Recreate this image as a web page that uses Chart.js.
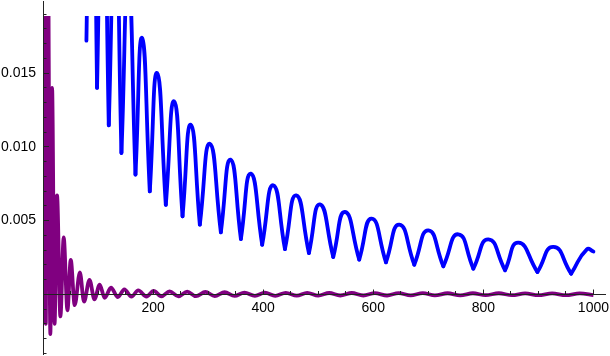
<!DOCTYPE html>
<html>
<head>
<meta charset="utf-8">
<script src="https://cdn.jsdelivr.net/npm/chart.js@4/dist/chart.umd.min.js"></script>
<style>
  html, body { margin: 0; padding: 0; background: #fff; }
  #wrap { width: 610px; height: 356px; }
</style>
</head>
<body>
<div id="wrap"><canvas id="myChart"></canvas></div>
<script>
// Curva azul: arranque, picos y mínimos (cúspides)
var blueX = [78.9, 88.5, 98.2, 108.5, 119.5, 131.3, 142.5, 154.9, 168, 180, 194, 207.3, 223.1, 238.2,
  253.5, 268.5, 284.9, 303.1, 323.1, 340.7, 359.5, 377.6, 398.2, 418.2, 439.5, 460, 483.1, 503.1,
  527.3, 548.5, 574.5, 597.1, 623.1, 647.3, 674.5, 700, 727.3, 754.5, 781.8, 809.1, 839.5, 863.6,
  898.2, 927.3, 959.5, 988, 1000];
var blueY = [0.0172, 0.040, 0.0140, 0.032, 0.01146, 0.026, 0.00958, 0.0215, 0.00811, 0.01738, 0.00698,
  0.0150, 0.00607, 0.01308, 0.00529, 0.0115, 0.00472, 0.01021, 0.0042, 0.00913, 0.00375, 0.00818,
  0.00336, 0.00739, 0.00307, 0.00671, 0.0028, 0.0061, 0.00253, 0.00558, 0.00235, 0.00513, 0.00217,
  0.00472, 0.00201, 0.00434, 0.0019, 0.00407, 0.00174, 0.00373, 0.00163, 0.0035, 0.00151, 0.00321,
  0.0014, 0.00305, 0.0029];

// Curva morada: oscilación amortiguada (máximos y mínimos)
var purpleX = [3, 5, 8, 13.4, 16.5, 21, 25.5, 31.6, 37.6, 44.4, 50.4, 57.6, 67, 74.5, 84.5, 93.5,
  103, 112, 123.5, 136, 147.8, 160.7, 173, 188, 201, 215,
  230, 246, 262, 278, 295, 312, 330, 348, 366, 385, 403, 422, 441, 461, 480, 500, 520, 540,
  561, 582, 603, 625, 646, 668, 690, 712, 735, 758, 781, 804, 828, 852, 876, 900, 925, 950, 975, 1000];
var purpleY = [0.03, -0.0020, 0.03, -0.0027, 0.0140, -0.0020, 0.0067, -0.0015, 0.00385, -0.00108,
  0.00234, -0.00074, 0.00148, -0.0005, 0.00098, -0.00034, 0.00066, -0.00024, 0.00045, -0.00019,
  0.00034, -0.00016, 0.00027, -0.00015, 0.00023, -0.00014,
  0.0002, -0.00014, 0.00018, -0.00013, 0.00016, -0.00012, 0.00014, -0.00011, 0.00012, -0.0001,
  0.00011, -0.0001, 0.0001, -0.00009, 0.0001, -0.00009, 0.00009, -0.00008, 0.00009, -0.00008,
  0.00008, -0.00008, 0.00008, -0.00007, 0.00008, -0.00007, 0.00007, -0.00007, 0.00007, -0.00006,
  0.00007, -0.00006, 0.00006, -0.00006, 0.00006, -0.00006, 0.00006, -0.00005];

// Marcas de los ejes (las mayores llevan etiqueta)
var xTicks = [200, 400, 600, 800, 1000];
var yTicks = [0.005, 0.010, 0.015];
var xMinorStep = 50;
var yMinorStep = 0.001;

// Partir la curva azul en arcos, de cúspide a cúspide
function arcos(xs, ys) {
  var lista = [], actual = [{x: xs[0], y: ys[0]}];
  for (var i = 1; i < xs.length; i++) {
    actual.push({x: xs[i], y: ys[i]});
    if (i < xs.length - 1 && ys[i] < ys[i - 1] && ys[i] < ys[i + 1]) {
      lista.push(actual);
      actual = [{x: xs[i], y: ys[i]}];
    }
  }
  lista.push(actual);
  return lista;
}

function marcas(valores) {
  return function (s) { s.ticks = valores.map(function (v) { return {value: v}; }); };
}
function menores(paso, desde, hasta) {
  var v = [];
  for (var k = Math.ceil(desde / paso); k * paso <= hasta + 1e-12; k++) v.push(k * paso);
  return marcas(v);
}
function sinEspacio(scale) {
  scale.paddingLeft = scale.paddingRight = scale.paddingTop = scale.paddingBottom = 0;
}

var xMin = 0, xMax = 1021;
var yMin = -0.004047, yMax = 0.019885;

var ctx = document.getElementById('myChart').getContext('2d');
Chart.defaults.font.family = '"Liberation Sans", Arial, sans-serif';
Chart.defaults.font.size = 14;
Chart.defaults.color = '#000';

var recorte = {left: 0, top: -15, right: 0, bottom: 0};

var datasets = [{
  data: purpleX.map(function (x, i) { return {x: x, y: purpleY[i]}; }),
  borderColor: '#800080',
  borderWidth: 3.8,
  pointRadius: 0,
  cubicInterpolationMode: 'monotone',
  clip: recorte
}];
arcos(blueX, blueY).forEach(function (arco) {
  datasets.push({
    data: arco,
    borderColor: '#0000ff',
    borderWidth: 3.8,
    borderCapStyle: 'round',
    pointRadius: 0,
    tension: 0.55,
    clip: recorte
  });
});

var config = {
  type: 'line',
  data: { datasets: datasets },
  options: {
    responsive: true,
    maintainAspectRatio: false,
    animation: false,
    layout: { padding: {left: 0, right: 5, top: 1, bottom: 2} },
    plugins: { legend: {display: false}, tooltip: {enabled: false} },
    scales: {
      x: {
        type: 'linear', position: {y: 0}, min: xMin, max: xMax,
        border: {color: '#222', width: 1, z: 1},
        grid: {drawOnChartArea: false, tickLength: -5.5, tickColor: '#222', z: 1},
        ticks: {
          autoSkip: false, maxRotation: 0, padding: 10.5,
          callback: function (v) { return String(v); }
        },
        afterBuildTicks: marcas(xTicks),
        afterFit: function (s) { s.height = 0; sinEspacio(s); }
      },
      xm: {
        type: 'linear', position: {y: 0}, min: xMin, max: xMax,
        border: {display: false},
        grid: {drawOnChartArea: false, tickLength: -3, tickColor: '#222', z: 1},
        ticks: {display: false},
        afterBuildTicks: menores(xMinorStep, xMinorStep, 1000),
        afterFit: function (s) { s.height = 0; sinEspacio(s); }
      },
      y: {
        type: 'linear', position: 'left', min: yMin, max: yMax,
        border: {color: '#222', width: 1, z: 1},
        grid: {drawOnChartArea: false, tickLength: -6, tickColor: '#222', z: 1},
        ticks: {
          autoSkip: false, padding: 13,
          callback: function (v) { return v.toFixed(3); }
        },
        afterBuildTicks: marcas(yTicks),
        afterFit: function (s) { s.width = 43; sinEspacio(s); }
      },
      ym: {
        type: 'linear', position: {x: 0}, min: yMin, max: yMax,
        border: {display: false},
        grid: {drawOnChartArea: false, tickLength: -3.5, tickColor: '#222', z: 1},
        ticks: {display: false},
        afterBuildTicks: menores(yMinorStep, yMin, yMax),
        afterFit: function (s) { s.width = 0; sinEspacio(s); }
      }
    }
  }
};

var myChart = new Chart(ctx, config);
</script>
</body>
</html>
